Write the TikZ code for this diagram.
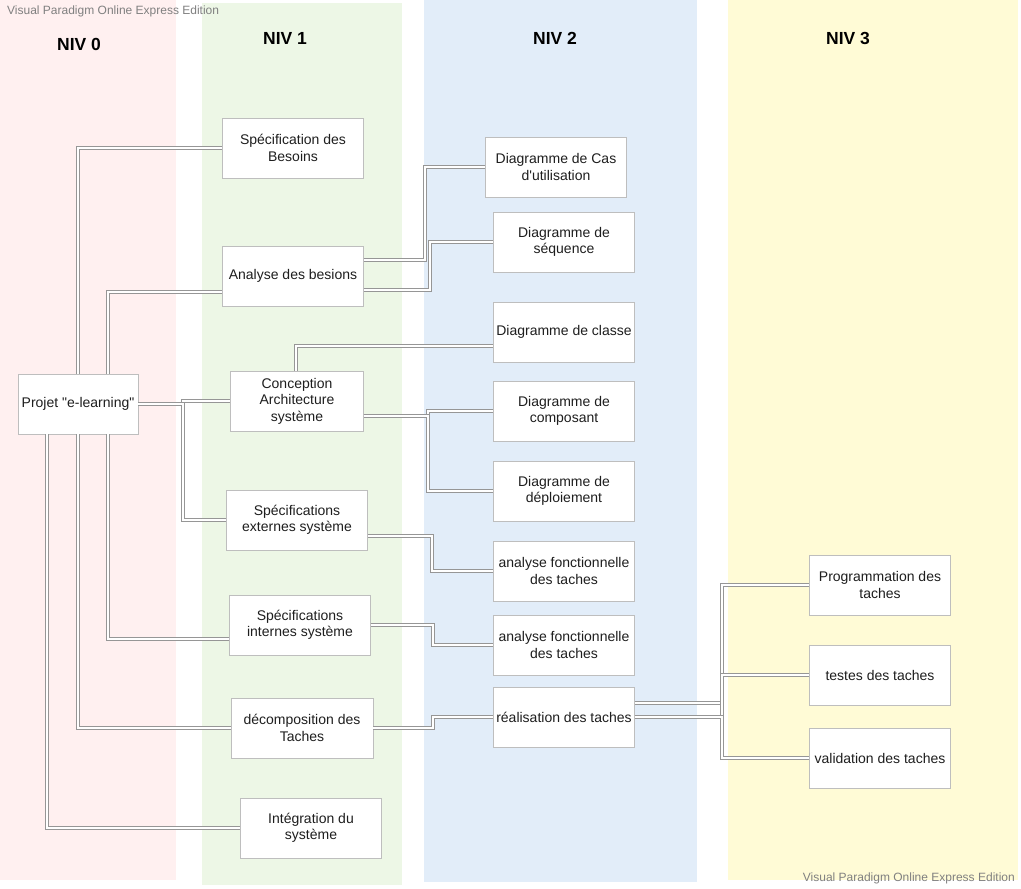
\documentclass[tikz,border=0pt]{standalone}
\usepackage{fontspec}
\setmainfont{Liberation Sans}
\definecolor{rose}{RGB}{255,240,240}
\definecolor{vert}{RGB}{237,247,230}
\definecolor{bleu}{RGB}{226,237,249}
\definecolor{jaune}{RGB}{255,251,214}
\definecolor{trait}{RGB}{150,150,150}
\definecolor{bord}{RGB}{190,190,190}
\definecolor{texte}{RGB}{30,30,30}
\begin{document}
\begin{tikzpicture}[x=1pt, y=-1pt,
    boite/.style={draw=bord, fill=white, align=center, minimum height=60pt,
        inner sep=2pt, text=texte, font=\fontsize{14}{16.5}\selectfont},
    titre/.style={font=\fontsize{17.5}{19}\selectfont\bfseries},
    lien/.style={draw=trait, line width=1.1pt, double=white, double distance=2.2pt},
    filigrane/.style={text=gray, font=\fontsize{12}{14}\selectfont, inner sep=0pt}]

    \useasboundingbox[fill=white] (0,0) rectangle (1021,889);

    % colonnes
    \fill[rose] (0,0) rectangle (176,880);
    \fill[vert] (202,3) rectangle (402,885);
    \fill[bleu] (424,0) rectangle (697,882);
    \fill[jaune] (728,0) rectangle (1018,880);

    \node[titre] (niv0) at (79,44) {NIV 0};
    \node[titre] (niv1) at (285,38) {NIV 1};
    \node[titre] (niv2) at (555,38) {NIV 2};
    \node[titre] (niv3) at (848,38) {NIV 3};

    % niveau 0 et 1
    \node[boite, minimum width=120pt] (projet) at (78,404) {Projet \textquotedbl e-learning\textquotedbl};
    \node[boite, minimum width=141pt] (specb) at (293,148) {Spécification des\\Besoins};
    \node[boite, minimum width=141pt] (analyse) at (293,276) {Analyse des besions};
    \node[boite, minimum width=133pt] (concep) at (297,401) {Conception\\Architecture\\système};
    \node[boite, minimum width=141pt] (specext) at (297,520) {Spécifications\\externes système};
    \node[boite, minimum width=141pt] (specint) at (300,625) {Spécifications\\internes système};
    \node[boite, minimum width=142pt] (decomp) at (302,728) {décomposition des\\Taches};
    \node[boite, minimum width=141pt] (integ) at (311,828) {Intégration du\\système};

    % niveau 2
    \node[boite, minimum width=141pt] (cas) at (556,167) {Diagramme de Cas\\d\textquotesingle utilisation};
    \node[boite, minimum width=141pt] (seq) at (564,242) {Diagramme de\\séquence};
    \node[boite, minimum width=141pt] (classe) at (564,332) {Diagramme de classe};
    \node[boite, minimum width=141pt] (compo) at (564,411) {Diagramme de\\composant};
    \node[boite, minimum width=141pt] (deploi) at (564,491) {Diagramme de\\déploiement};
    \node[boite, minimum width=141pt] (afa) at (564,571) {analyse fonctionnelle\\des taches};
    \node[boite, minimum width=141pt] (afb) at (564,645) {analyse fonctionnelle\\des taches};
    \node[boite, minimum width=141pt] (real) at (564,717) {réalisation des taches};

    % niveau 3
    \node[boite, minimum width=141pt] (prog) at (880,585) {Programmation des\\taches};
    \node[boite, minimum width=141pt] (testes) at (880,675) {testes des taches};
    \node[boite, minimum width=141pt] (valid) at (880,758) {validation des taches};

    % liens niveau 0 -> 1
    \draw[lien] (projet.north) |- (specb.west);
    \draw[lien] ([xshift=30]projet.north) |- ([yshift=-16]analyse.west);
    \draw[lien] (projet.east) -- ++(45,0) |- (concep.west);
    \draw[lien] (projet.east) -- ++(45,0) |- (specext.west);
    \draw[lien] ([xshift=30]projet.south) |- ([yshift=-14]specint.west);
    \draw[lien] (projet.south) |- (decomp.west);
    \draw[lien] ([xshift=-31]projet.south) |- (integ.west);

    % liens niveau 1 -> 2
    \draw[lien] ([yshift=16]analyse.east) -- ++(61,0) |- (cas.west);
    \draw[lien] ([yshift=-14]analyse.east) -- ++(66,0) |- (seq.west);
    \draw[lien] ([xshift=-1]concep.north) |- ([yshift=-14]classe.west);
    \draw[lien] ([yshift=-15]concep.east) -- ++(64,0) |- (compo.west);
    \draw[lien] ([yshift=-15]concep.east) -- ++(64,0) |- (deploi.west);
    \draw[lien] ([yshift=-16]specext.east) -- ++(64,0) |- (afa.west);
    \draw[lien] (specint.east) -- ++(62,0) |- (afb.west);
    \draw[lien] (decomp.east) -- ++(60,0) |- (real.west);

    % liens niveau 2 -> 3
    \draw[lien] ([yshift=14]real.east) -- ++(87,0) |- (prog.west);
    \draw[lien] (real.east) -- ++(87,0) |- (testes.west);
    \draw[lien] (real.east) -- ++(87,0) |- (valid.west);

    % filigranes
    \node[filigrane, anchor=west] (vpa) at (7,11) {Visual Paradigm Online Express Edition};
    \node[filigrane, anchor=east] (vpb) at (1015,878) {Visual Paradigm Online Express Edition};

\end{tikzpicture}
\end{document}
